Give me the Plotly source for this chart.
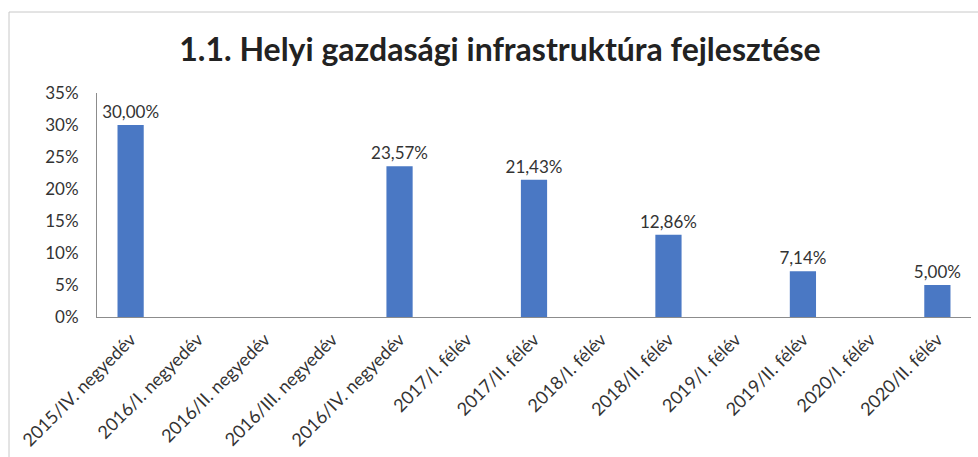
import plotly.graph_objects as go

categories = ["2015/IV. negyedév", "2016/I. negyedév", "2016/II. negyedév",
              "2016/III. negyedév", "2016/IV. negyedév", "2017/I. félév",
              "2017/II. félév", "2018/I. félév", "2018/II. félév",
              "2019/I. félév", "2019/II. félév", "2020/I. félév", "2020/II. félév"]
values = [30.00, 0, 0, 0, 23.57, 0, 21.43, 0, 12.86, 0, 7.14, 0, 5.00]
tick_vals = [0, 5, 10, 15, 20, 25, 30, 35]
tick_text = ["0%", "5%", "10%", "15%", "20%", "25%", "30%", "35%"]
title = "1.1. Helyi gazdasági infrastruktúra fejlesztése"

labels = [("%.2f%%" % v).replace(".", ",") if v > 0 else "" for v in values]

W, H = 978, 457
ml, mr, mt, mb = 97, 7, 93, 140
pw, ph = W - ml - mr, H - mt - mb
FONT = "Lato"

fig = go.Figure(go.Bar(
    x=categories, y=values, text=labels, textposition="outside",
    constraintext="none",
    textfont=dict(size=17, color="#333333", family=FONT),
    marker=dict(color="#4a78c4", line=dict(width=0)),
    cliponaxis=False,
))

fig.update_layout(
    width=W, height=H,
    margin=dict(l=ml, r=mr, t=mt, b=mb),
    paper_bgcolor="white", plot_bgcolor="white",
    bargap=0.61,
    showlegend=False,
    font=dict(family=FONT, color="#333333"),
    title=dict(text="<b>" + title + "</b>", x=500 / W, xref="container", xanchor="center",
               y=1 - 50 / H, yanchor="middle",
               font=dict(size=32, family=FONT, color="#222222")),
    xaxis=dict(tickangle=-45, tickfont=dict(size=18, color="#333333"),
               showline=True, linecolor="#8c8c8c", linewidth=1,
               showgrid=False, ticks="", automargin=False, ticklabelstandoff=4),
    yaxis=dict(range=[0, 35], tickvals=tick_vals, ticktext=tick_text,
               tickfont=dict(size=17, color="#333333"),
               showline=True, linecolor="#8c8c8c", linewidth=1,
               showgrid=False, zeroline=False, ticks="", automargin=False,
               ticklabelstandoff=14),
    shapes=[dict(type="rect", xref="paper", yref="paper",
                 x0=(9 - ml) / pw, x1=(990 - ml) / pw,
                 y0=(H - mb - 470) / ph, y1=(H - mb - 12) / ph,
                 line=dict(color="#c8c8c8", width=1), layer="below")],
)

fig.write_html("out.html", config={"displayModeBar": False},
               post_script="document.body.style.margin='0';document.body.style.overflow='hidden';")
